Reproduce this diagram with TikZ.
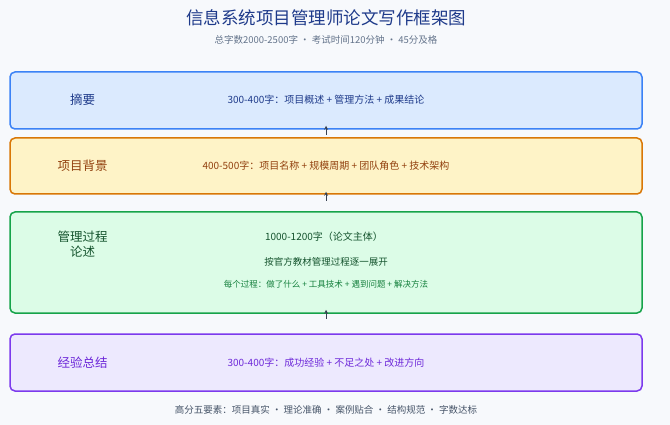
\documentclass[tikz,border=0pt]{standalone}
\usepackage{fontspec}
\setmainfont{Noto Sans CJK SC}
\usepackage{tikz}
\usetikzlibrary{
  positioning,
  arrows.meta,
  arrows
}
\usepackage{xcolor}

\definecolor{bgpage}{HTML}{F7F9FC}
\definecolor{titleblue}{HTML}{1E3A8A}
\definecolor{subgray}{HTML}{64748B}
\definecolor{footgray}{HTML}{475569}
\definecolor{arrowgray}{HTML}{374151}
\definecolor{absfill}{HTML}{DBEAFE}
\definecolor{absline}{HTML}{3B82F6}
\definecolor{abstext}{HTML}{1E3A8A}
\definecolor{bgfill}{HTML}{FEF3C7}
\definecolor{bgline}{HTML}{D97706}
\definecolor{bgtext}{HTML}{92400E}
\definecolor{procfill}{HTML}{DCFCE7}
\definecolor{procline}{HTML}{16A34A}
\definecolor{proctext}{HTML}{14532D}
\definecolor{procsmall}{HTML}{15803D}
\definecolor{sumfill}{HTML}{EDE9FE}
\definecolor{sumline}{HTML}{7C3AED}
\definecolor{sumtext}{HTML}{6D28D9}

\begin{document}
\begin{tikzpicture}[
    x=1pt, y=-1pt,
    partbox/.style={draw, line width=1.5pt, rounded corners=5pt,
        minimum width=632pt, inner sep=0pt},
    partname/.style={font=\fontsize{12.5}{15}\selectfont, align=center, inner sep=0pt},
    partinfo/.style={font=\fontsize{10}{12}\selectfont, inner sep=0pt},
    flowarrow/.style={-stealth, line width=0.8pt, arrowgray}
]

    % page
    \useasboundingbox (0,0) rectangle (670,425);
    \fill[bgpage] (0,0) rectangle (670,425);

    % title
    \node[font=\fontsize{17.5}{20}\selectfont, titleblue] (title) at (326,18)
        {信息系统项目管理师论文写作框架图};
    \node[font=\fontsize{9.5}{12}\selectfont, subgray] (subtitle) at (326,40)
        {总字数2000-2500字 · 考试时间120分钟 · 45分及格};

    % boxes
    \node[partbox, fill=absfill, draw=absline, minimum height=57pt] (abs) at (326,100.5) {};
    \node[partbox, fill=bgfill, draw=bgline, minimum height=56pt] (bg) at (326,166) {};
    \node[partbox, fill=procfill, draw=procline, minimum height=101pt] (proc) at (326,262.5) {};
    \node[partbox, fill=sumfill, draw=sumline, minimum height=57pt] (sum) at (326,362.5) {};

    % names
    \node[partname, abstext] (absname) at (82.5,100) {摘要};
    \node[partname, bgtext] (bgname) at (82.5,166) {项目背景};
    \node[partname, proctext] (procname) at (82.5,244.5) {管理过程\\论述};
    \node[partname, sumtext] (sumname) at (82.5,362.5) {经验总结};

    % contents
    \node[partinfo, abstext] (absinfo) at (326,100)
        {300-400字：项目概述 + 管理方法 + 成果结论};
    \node[partinfo, bgtext] (bginfo) at (326,166)
        {400-500字：项目名称 + 规模周期 + 团队角色 + 技术架构};
    \node[partinfo, proctext] (procinfo) at (324,237)
        {1000-1200字（论文主体）};
    \node[partinfo, proctext, font=\fontsize{9.5}{12}\selectfont] (procway) at (326,262)
        {按官方教材管理过程逐一展开};
    \node[partinfo, procsmall, font=\fontsize{8.5}{10}\selectfont] (procstep) at (326,284)
        {每个过程：做了什么 + 工具技术 + 遇到问题 + 解决方法};
    \node[partinfo, sumtext] (suminfo) at (326,362.5)
        {300-400字：成功经验 + 不足之处 + 改进方向};

    % arrows
    \draw[flowarrow] ([yshift=-5pt]abs.south) -- ([yshift=4pt]abs.south);
    \draw[flowarrow] ([yshift=-6pt]bg.south) -- ([yshift=3pt]bg.south);
    \draw[flowarrow] ([yshift=-5pt]proc.south) -- ([yshift=4pt]proc.south);

    % footer
    \node[font=\fontsize{9.5}{12}\selectfont, footgray] (footer) at (326,410)
        {高分五要素：项目真实 · 理论准确 · 案例贴合 · 结构规范 · 字数达标};

\end{tikzpicture}
\end{document}
